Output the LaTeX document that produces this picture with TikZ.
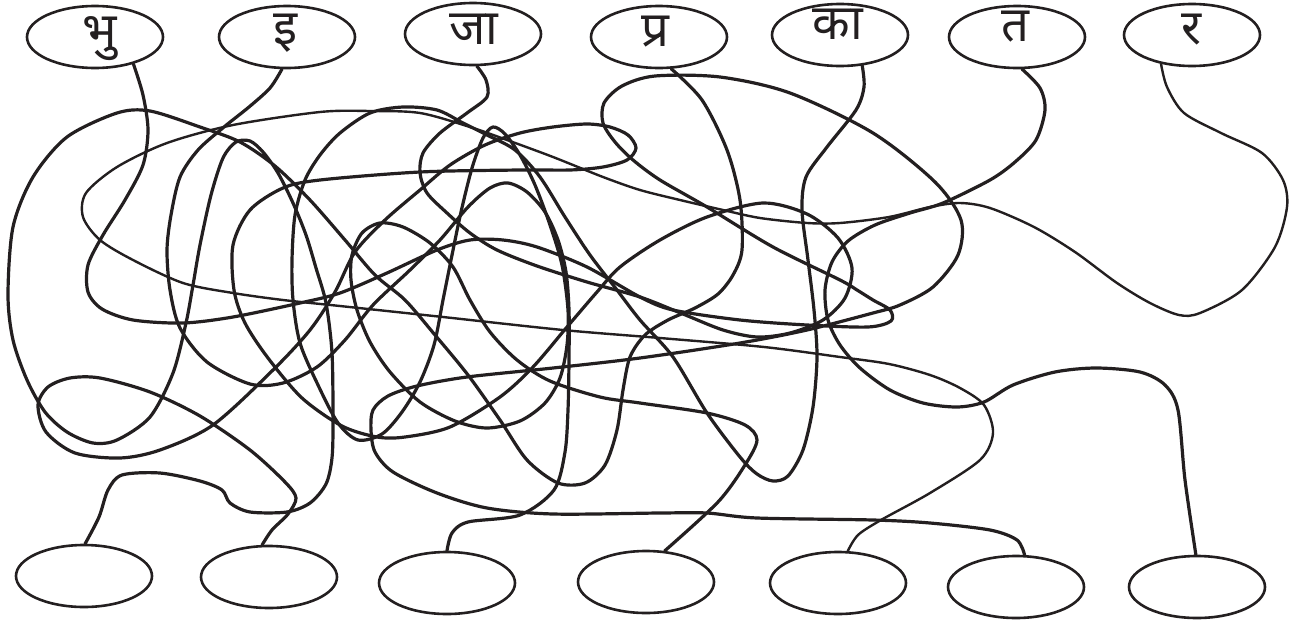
\documentclass[tikz,border=0pt]{standalone}
\usepackage{fontspec}
\newfontfamily\deva[Script=Devanagari]{Noto Sans}
\usetikzlibrary{shapes.geometric}
\definecolor{ink}{RGB}{35,31,32}
\begin{document}
\begin{tikzpicture}[x=1pt,y=-1pt,
  ell/.style={draw=ink, ellipse, minimum width=136pt, minimum height=62pt, inner sep=0pt, line width=2.6pt},
  lbl/.style={font=\deva\fontsize{49}{49}\selectfont, text=ink, inner sep=0pt, anchor=base},
  wire/.style={draw=ink, line width=3.2pt, line cap=round, line join=round},
  thinwire/.style={draw=ink, line width=2.4pt, line cap=round, line join=round}]
\useasboundingbox (0,0) rectangle (1290,627);
% top ellipses
\node[ell] (t1) at (95,37) {};
\node[ell] (t2) at (287,37) {};
\node[ell] (t3) at (473,34) {};
\node[ell] (t4) at (659,37) {};
\node[ell] (t5) at (840,35) {};
\node[ell] (t6) at (1017,37) {};
\node[ell] (t7) at (1192,35) {};
% labels
\node[lbl] (l1) at (100,47) {भु};
\node[lbl] (l2) at (286,44) {इ};
\node[lbl] (l3) at (474,44) {जा};
\node[lbl] (l4) at (655,46) {प्र};
\node[lbl] (l5) at (838,39) {का};
\node[lbl] (l6) at (1015,41) {त};
\node[lbl] (l7) at (1192,44) {र};
% bottom ellipses
\node[ell] (b1) at (84,576) {};
\node[ell] (b2) at (269,577) {};
\node[ell] (b3) at (447,583) {};
\node[ell] (b4) at (646,582) {};
\node[ell] (b5) at (838,583) {};
\node[ell] (b6) at (1016,587) {};
\node[ell] (b7) at (1197,587) {};
% bhu -> b6
\draw[wire] plot[smooth] coordinates {(t1.-35) (143,95) (148,130) (143,165) (125,200) (103,235) (88,265) (88,292) (102,309) (133,320) (183,323) (233,317) (300,303) (340,293) (387,273) (437,250) (470,240) (503,240) (537,247) (587,267) (640,297) (673,310) (740,320) (807,325) (868,327) (891,321) (890,310) (873,300) (857,290) (840,280) (773,247) (707,207) (660,180) (633,160) (615,142) (603,123) (604,103) (622,86) (655,76) (720,77) (790,93) (873,133) (935,182) (961,220) (958,255) (933,287) (900,305) (873,313) (807,330) (740,343) (640,358) (553,368) (467,377) (417,386) (388,396) (373,410) (371,430) (375,452) (393,472) (437,493) (487,508) (553,514) (660,513) (707,513) (757,518) (873,520) (930,523) (990,530) (1017,540) (b6.75)};
% ja -> b2
\draw[wire] plot[smooth] coordinates {(t3.-83) (486,80) (487,97) (467,113) (440,133) (423,153) (420,173) (427,193) (447,213) (470,233) (497,250) (537,266) (587,282) (640,297) (683,314) (723,330) (757,337) (790,333) (823,320) (845,298) (852,268) (838,238) (807,214) (763,203) (707,217) (660,240) (620,267) (597,292) (567,327) (533,367) (500,397) (450,427) (405,437) (377,437) (342,426) (302,398) (268,358) (245,323) (234,290) (233,245) (250,210) (283,188) (320,180) (420,172) (520,170) (570,170) (603,167) (627,160) (636,148) (628,135) (610,127) (587,124) (553,127) (520,133) (485,145) (450,165) (420,190) (385,220) (355,252) (335,292) (310,330) (273,370) (213,425) (160,450) (120,458) (75,453) (46,432) (38,405) (48,387) (70,378) (100,378) (150,392) (200,416) (250,450) (285,482) (296,498) (288,514) (272,530) (b2.102)};
% pra -> b1
\draw[wire] plot[smooth] coordinates {(t4.-69) (702,100) (727,150) (740,200) (742,250) (733,275) (718,294) (695,308) (668,320) (645,335) (630,357) (623,390) (617,430) (605,465) (585,483) (558,483) (527,460) (500,420) (468,375) (435,335) (405,300) (375,275) (345,240) (310,200) (275,166) (240,142) (200,127) (150,111) (117,113) (67,137) (33,177) (13,227) (8,295) (13,340) (27,380) (45,412) (67,432) (93,443) (117,440) (150,417) (173,373) (186,323) (193,285) (200,245) (211,195) (223,158) (236,142) (250,141) (263,152) (278,173) (293,203) (306,235) (316,268) (326,303) (332,353) (333,420) (332,458) (326,484) (310,503) (287,512) (250,512) (230,503) (222,490) (200,481) (160,473) (122,475) (108,490) (99,517) (b1.88)};
% i -> b3
\draw[wire] plot[smooth] coordinates {(t2.-99) (270,88) (249,107) (224,127) (198,150) (180,177) (171,215) (167,250) (170,290) (180,328) (207,362) (250,384) (283,383) (317,367) (345,340) (373,305) (410,270) (440,240) (468,207) (490,188) (508,183) (527,192) (545,212) (558,240) (566,272) (569,310) (569,360) (568,410) (565,452) (554,490) (520,515) (468,522) (452,533) (b3.90)};
% ka -> b4
\draw[wire] plot[smooth] coordinates {(t5.-54) (864,87) (856,110) (827,147) (806,177) (802,210) (808,260) (814,310) (817,357) (813,407) (803,450) (788,476) (773,481) (757,474) (740,457) (707,413) (673,357) (640,320) (617,290) (590,255) (565,217) (540,177) (515,150) (487,135) (463,123) (437,110) (403,107) (370,113) (340,133) (320,155) (305,180) (295,215) (292,260) (293,300) (300,343) (318,385) (338,423) (358,440) (382,434) (402,412) (420,382) (434,345) (443,300) (451,260) (461,212) (472,168) (483,138) (493,127) (505,134) (520,155) (535,185) (550,225) (562,265) (568,310) (567,345) (560,378) (545,403) (520,421) (487,428) (455,421) (420,402) (390,372) (370,342) (357,310) (351,280) (352,255) (362,233) (380,223) (403,227) (430,243) (453,267) (470,300) (490,332) (517,360) (550,381) (600,397) (640,403) (707,413) (745,425) (757,440) (745,465) (718,502) (b4.59)};
% ra -> b5
\draw[thinwire] plot[smooth] coordinates {(t7.-137) (1167,87) (1184,113) (1221,133) (1262,153) (1283,180) (1287,207) (1275,247) (1242,290) (1200,313) (1179,315) (1150,303) (1117,283) (1075,252) (1034,227) (990,208) (960,203) (930,207) (889,217) (840,223) (807,223) (760,218) (723,210) (680,200) (640,190) (603,177) (553,157) (507,140) (470,127) (420,113) (370,111) (320,112) (233,125) (167,143) (117,167) (86,193) (83,217) (100,240) (133,260) (183,283) (233,293) (283,300) (340,306) (443,317) (563,330) (660,338) (764,347) (840,357) (889,364) (930,375) (960,388) (984,405) (993,433) (980,460) (930,493) (881,520) (858,535) (b5.73)};
% ta -> b7
\draw[wire] plot[smooth] coordinates {(t6.-81) (1040,88) (1045,110) (1036,140) (1015,162) (990,180) (943,203) (910,213) (875,225) (848,241) (832,262) (825,290) (828,320) (840,345) (860,368) (890,390) (923,403) (957,407) (984,402) (1013,385) (1055,372) (1096,368) (1140,372) (1165,385) (1178,410) (1185,480) (b7.92)};
\end{tikzpicture}
\end{document}
